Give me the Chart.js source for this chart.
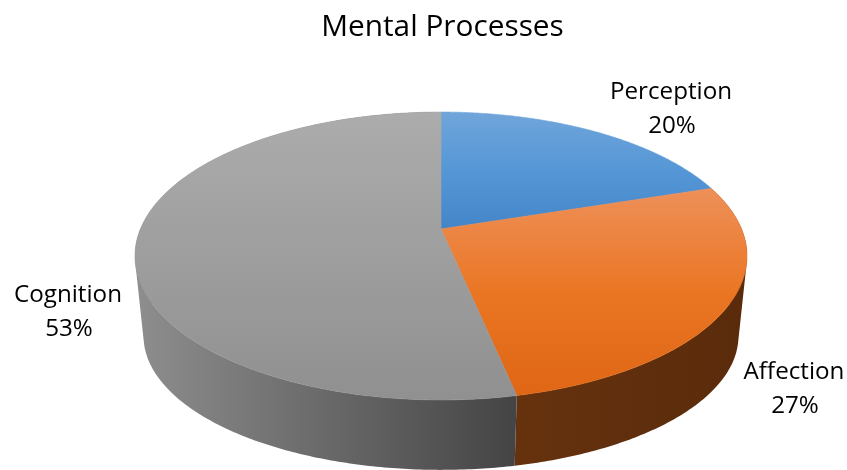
<!DOCTYPE html>
<html><head><meta charset="utf-8">
<style>html,body{margin:0;padding:0;background:#fff}canvas{display:block}</style>
<script src="https://cdn.jsdelivr.net/npm/chart.js@4/dist/chart.umd.min.js"></script>
</head><body>
<div style="width:847px;height:470px"><canvas id="c" width="847" height="470"></canvas></div>
<script>
const chartTitle = 'Mental Processes';
const categories = ['Perception', 'Affection', 'Cognition'];
const shares = [20, 26.7, 53.3];
const percentLabels = ['20%', '27%', '53%'];
const sliceColors = ['#5B9BD5', '#ED7D31', '#A5A5A5'];
const topGradients = [['#70a5da', '#5597d6', '#4485c8'], ['#ee9059', '#ea7624', '#df6614'], ['#acacac', '#9e9e9e', '#909090']];
const sideGradients = [['#2f5f8f', '#2f5f8f'], ['#66320e', '#5a2b0b'], ['#8e8e8e', '#444444']];
const labelAnchors = [[671, 109], [794, 389], [68, 312]];
const percentOffset = 24;

// perspective view of the pie's top disc
const VIEW = {cx: 441, cy: 229, a: 300.6, b: 138.9, k: -0.1875, ecy: 256, bcy: 336, sx: 0.972, sy: 0.93};
function topPoint(t) {           // t: canvas angle from the arc element
  const u = Math.cos(t), v = Math.sin(t), d = 1 + VIEW.k * v;
  return [VIEW.cx + VIEW.a * u / d, VIEW.cy + VIEW.b * v / d];
}
function bottomPoint(t) {
  const p = topPoint(t);
  return [VIEW.cx + (p[0] - VIEW.cx) * VIEW.sx, VIEW.bcy + (p[1] - VIEW.ecy) * VIEW.sy];
}
function rim(a0, a1, fn) {
  const pts = [], n = Math.max(8, Math.ceil((a1 - a0) * 90));
  for (let i = 0; i <= n; i++) pts.push(fn(a0 + (a1 - a0) * i / n));
  return pts;
}
function addPoly(ctx, pts) {
  let area = 0;
  pts.forEach((p, i) => { const q = pts[(i + 1) % pts.length]; area += p[0] * q[1] - q[0] * p[1]; });
  const list = area < 0 ? pts.slice().reverse() : pts;
  list.forEach((p, i) => i ? ctx.lineTo(p[0], p[1]) : ctx.moveTo(p[0], p[1]));
  ctx.closePath();
}

const pie3d = {
  id: 'pie3d',
  beforeDatasetDraw(chart, args) {
    const ctx = chart.ctx, arcs = args.meta.data;
    ctx.save();
    ctx.lineJoin = 'round';
    // walls first
    arcs.forEach((arc, i) => {
      const tp = rim(arc.startAngle, arc.endAngle, topPoint);
      const bp = rim(arc.startAngle, arc.endAngle, bottomPoint);
      const xs = tp.filter(p => p[1] > VIEW.ecy - 5).map(p => p[0]);
      const g = ctx.createLinearGradient(Math.min(...xs, 517), 0, Math.max(...xs, 517), 0);
      g.addColorStop(0, sideGradients[i][0]);
      g.addColorStop(1, sideGradients[i][1]);
      ctx.beginPath();
      for (let s = 0; s < tp.length - 1; s++) addPoly(ctx, [tp[s], tp[s + 1], bp[s + 1], bp[s]]);
      ctx.fillStyle = g; ctx.fill('nonzero');
    });
    // top faces
    arcs.forEach((arc, i) => {
      const tp = rim(arc.startAngle, arc.endAngle, topPoint);
      tp.push([VIEW.cx, VIEW.cy]);
      const ys = tp.map(p => p[1]);
      const g = ctx.createLinearGradient(0, Math.min(...ys), 0, Math.max(...ys));
      topGradients[i].forEach((c, j) => g.addColorStop(j / (topGradients[i].length - 1), c));
      ctx.beginPath();
      addPoly(ctx, tp);
      ctx.fillStyle = g; ctx.fill();
      ctx.strokeStyle = g; ctx.lineWidth = 0.6; ctx.stroke();
    });
    ctx.restore();
    return false;
  },
  afterDatasetsDraw(chart) {
    const ctx = chart.ctx;
    ctx.save();
    ctx.fillStyle = '#000';
    ctx.font = '24.2px "Open Sans"';
    ctx.textAlign = 'center';
    ctx.textBaseline = 'alphabetic';
    categories.forEach((name, i) => {
      const [x, y] = labelAnchors[i];
      ctx.fillText(name, x, y - 10);
      ctx.fillText(percentLabels[i], x + 1, y + percentOffset);
    });
    ctx.restore();
  }
};

new Chart(document.getElementById('c'), {
  type: 'pie',
  data: {labels: categories, datasets: [{data: shares, backgroundColor: sliceColors, borderWidth: 0}]},
  plugins: [pie3d],
  options: {
    responsive: false, animation: false,
    devicePixelRatio: 1,
    layout: {padding: {left: 38}},
    plugins: {
      legend: {display: false},
      tooltip: {enabled: false},
      title: {display: true, text: chartTitle, color: '#000',
              font: {family: '"Open Sans"', size: 29.8, weight: 'normal'}, padding: {top: 10, bottom: 10}}
    }
  }
});
</script>
</body></html>
